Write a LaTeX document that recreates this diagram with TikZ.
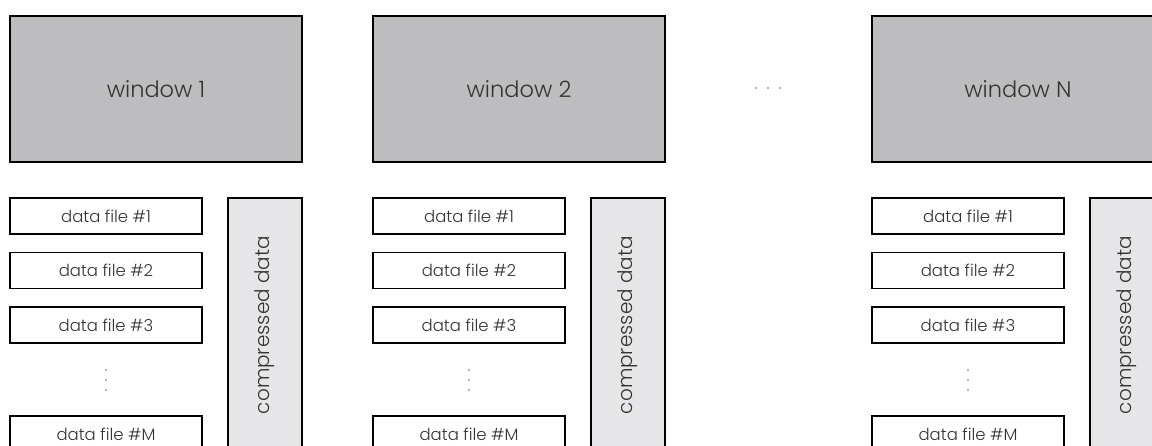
\documentclass[tikz,border=0pt]{standalone}
\usepackage{fontspec}
\setmainfont{Poppins}[UprightFont=* Light]
\definecolor{winfill}{HTML}{BDBDBF}
\definecolor{compfill}{HTML}{E6E6E8}
\definecolor{txt}{HTML}{333333}
\tikzset{
  box/.style={draw=black, line width=1.8pt, inner sep=0pt, text=txt},
  winbox/.style={box, fill=winfill, minimum width=292pt, minimum height=146pt, font=\fontsize{22.5}{26}\selectfont},
  filebox/.style={box, fill=white, minimum width=192pt, minimum height=36pt, font=\fontsize{16.5}{19}\selectfont},
  compbox/.style={box, fill=compfill, minimum width=74pt, minimum height=254pt},
  comptext/.style={rotate=90, text=txt, font=\fontsize{20}{23}\selectfont},
  dot/.style={circle, fill=txt!75, inner sep=0pt, minimum size=1.8pt}
}
\begin{document}
\begin{tikzpicture}[x=1pt, y=-1pt]
  \useasboundingbox (0,0) rectangle (1152,445);
  \clip (0,0) rectangle (1152,445);
  \foreach \g/\x/\lab in {1/10/1, 2/373/2, 3/872/N} {
    % window on top
    \node[winbox] (win\g) at (\x+146, 89) {window \lab};
    % list of data files
    \node[filebox] (f\g a) at (\x+96, 216) {data file \#1};
    \node[filebox] (f\g b) at (\x+96, 270.5) {data file \#2};
    \node[filebox] (f\g c) at (\x+96, 325) {data file \#3};
    % vertical ellipsis between #3 and #M
    \node[dot] (v\g a) at (\x+96, 370) {};
    \node[dot] (v\g b) at (\x+96, 380) {};
    \node[dot] (v\g c) at (\x+96, 390) {};
    \node[filebox] (f\g m) at (\x+96, 434) {data file \#M};
    % compressed block beside the files
    \node[compbox] (c\g) at (\x+255, 325) {};
    \node[comptext] (ct\g) at (c\g.center) {compressed data};
  }
  % horizontal ellipsis between window 2 and window N
  \node[dot] (h1) at (756, 88) {};
  \node[dot] (h2) at (768, 88) {};
  \node[dot] (h3) at (780, 88) {};
\end{tikzpicture}
\end{document}
